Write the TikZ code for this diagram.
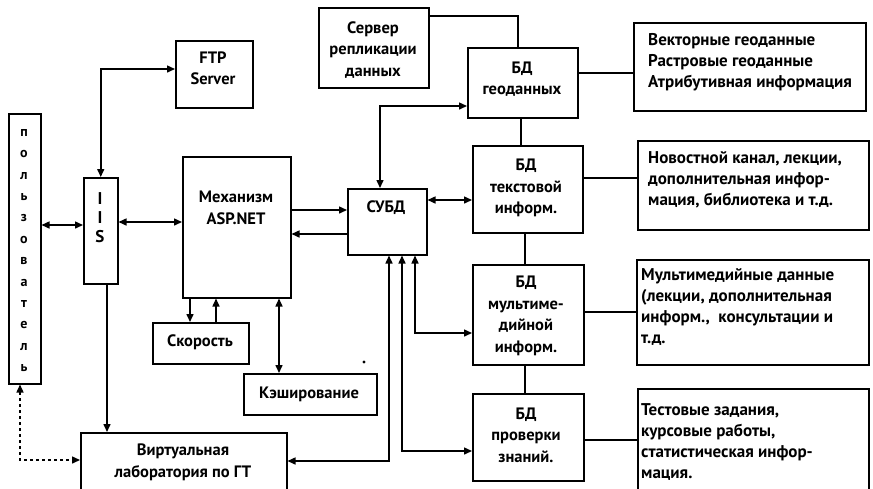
\documentclass[tikz,border=0pt]{standalone}
\usepackage{fontspec}
\setmainfont{PT Sans}
\usetikzlibrary{arrows.meta}
\begin{document}
\begin{tikzpicture}[x=1pt,y=-1pt,
  box/.style={draw, line width=1.5pt, inner sep=0pt, anchor=north west},
  txt/.style={align=center, inner sep=0pt, font=\fontsize{16.5}{21.5}\selectfont\bfseries},
  ltxt/.style={align=left, anchor=west, inner sep=0pt, font=\fontsize{17}{21}\selectfont\bfseries},
  con/.style={line width=1.5pt},
  tip/.style={-{Triangle[length=8pt,width=7pt]}},
  tips/.style={{Triangle[length=8pt,width=7pt]}-{Triangle[length=8pt,width=7pt]}},
  ttip/.style={{Triangle[length=8pt,width=7pt]}-}]
\useasboundingbox (0,0) rectangle (873,488);
\fill[white] (0,0) rectangle (873,488);
% boxes
\node[box, minimum width=32pt, minimum height=270pt] (user) at (8,113) {};
\node[box, minimum width=34pt, minimum height=106pt] (iis) at (83,177) {};
\node[box, minimum width=77pt, minimum height=67pt] (ftp) at (175,40) {};
\node[box, minimum width=108pt, minimum height=141pt] (asp) at (182,156) {};
\node[box, minimum width=79pt, minimum height=66pt] (subd) at (347,188) {};
\node[box, minimum width=96pt, minimum height=41pt] (speed) at (152,322) {};
\node[box, minimum width=133pt, minimum height=41pt] (cache) at (243,373) {};
\node[box, minimum width=206pt, minimum height=70pt] (virt) at (80,432) {};
\node[box, minimum width=110pt, minimum height=80pt] (serv) at (318,7) {};
\node[box, minimum width=110pt, minimum height=70pt] (geo) at (467,47) {};
\node[box, minimum width=110pt, minimum height=87pt] (text) at (472,145) {};
\node[box, minimum width=111pt, minimum height=100pt] (mult) at (472,264) {};
\node[box, minimum width=111pt, minimum height=87pt] (test) at (472,393) {};
\node[box, minimum width=232pt, minimum height=88pt] (d1) at (633,22) {};
\node[box, minimum width=231pt, minimum height=89pt] (d2) at (637,140) {};
\node[box, minimum width=232pt, minimum height=105pt] (d3) at (636,259) {};
\node[box, minimum width=231pt, minimum height=110pt] (d4) at (637,388) {};
% texts
\node[txt, font=\fontsize{14}{21.4}\selectfont\bfseries] (tuser) at (24,250.5) {п\\о\\л\\ь\\з\\о\\в\\а\\т\\е\\л\\ь};
\node[txt, font=\fontsize{17}{19}\selectfont\bfseries] (tiis) at (100,218) {I\\I\\S};
\node[txt] (tftp) at (213,68.5) {FTP\\Server};
\node[txt] (tasp) at (236,208) {Механизм\\ASP.NET};
\node[txt] (tsubd) at (386,208) {СУБД};
\node[txt] (tspeed) at (200,342.5) {Скорость};
\node[txt] (tcache) at (309,394) {Кэширование};
\node[txt] (tvirt) at (183,462.5) {Виртуальная\\лаборатория по ГТ};
\node[txt] (tserv) at (373,50) {Сервер\\репликации\\данных};
\node[txt] (tgeo) at (522,79) {БД\\геоданных};
\node[txt] (ttext) at (526,188) {БД\\текстовой\\информ.};
\node[txt] (tmult) at (526,316) {БД\\мультиме-\\дийной\\информ.};
\node[txt] (ttest) at (526,435) {БД\\проверки\\знаний.};
\node[ltxt] (td1) at (648,62) {Векторные геоданные\\Растровые геоданные\\Атрибутивная информация};
\node[ltxt] (td2) at (648,180) {Новостной канал, лекции,\\дополнительная инфор-\\мация, библиотека и т.д.};
\node[ltxt] (td3) at (641,307) {Мультимедийные данные\\(лекции, дополнительная\\информ.,\ \ консультации и\\т.д.};
\node[ltxt] (td4) at (641,442) {Тестовые задания,\\курсовые работы,\\статистическая инфор-\\мация.};
% connectors
\draw[con,tips] (user.east |- 0,225) -- (iis.west |- 0,225);
\draw[con,tips] (iis.east |- 0,222) -- (asp.west |- 0,222);
\draw[con,tips] (iis.north) |- (ftp.west |- 0,69);
\draw[con,tip] (iis.south -| 107,0) -- (virt.north -| 107,0);
\draw[con,tips,dash pattern=on 3pt off 3pt] (user.south -| 20,0) |- (virt.west |- 0,460);
\draw[con,tip] (asp.east |- 0,210) -- (subd.west |- 0,210);
\draw[con,tip] (subd.west |- 0,234) -- (asp.east |- 0,234);
\draw[con,tip] (asp.south -| 190,0) -- (speed.north -| 190,0);
\draw[con,tip] (speed.north -| 216,0) -- (asp.south -| 216,0);
\draw[con,tips] (asp.south -| 279,0) -- (cache.north -| 279,0);
\draw[con,tips] (subd.north -| 380,0) |- (geo.west |- 0,106);
\draw[con,tips] (subd.east |- 0,200) -- (text.west |- 0,200);
\draw[con,tips] (subd.south -| 389,0) |- (virt.east |- 0,461);
\draw[con,tips] (subd.south -| 402,0) |- (test.west |- 0,451);
\draw[con,tips] (subd.south -| 415,0) |- (mult.west |- 0,333);
\draw[con] (serv.east |- 0,16) -| (geo.north -| 518,0);
\draw[con] (geo.south -| 521,0) -- (text.north -| 521,0);
\draw[con] (text.south -| 525,0) -- (mult.north -| 525,0);
\draw[con] (mult.south -| 525,0) -- (test.north -| 525,0);
\draw[con] (geo.east |- 0,73) -- (d1.west |- 0,73);
\draw[con] (text.east |- 0,178) -- (d2.west |- 0,178);
\draw[con] (mult.east |- 0,312) -- (d3.west |- 0,312);
\draw[con] (test.east |- 0,440) -- (d4.west |- 0,440);
\fill (364,362) circle (1.6pt);
\end{tikzpicture}
\end{document}
